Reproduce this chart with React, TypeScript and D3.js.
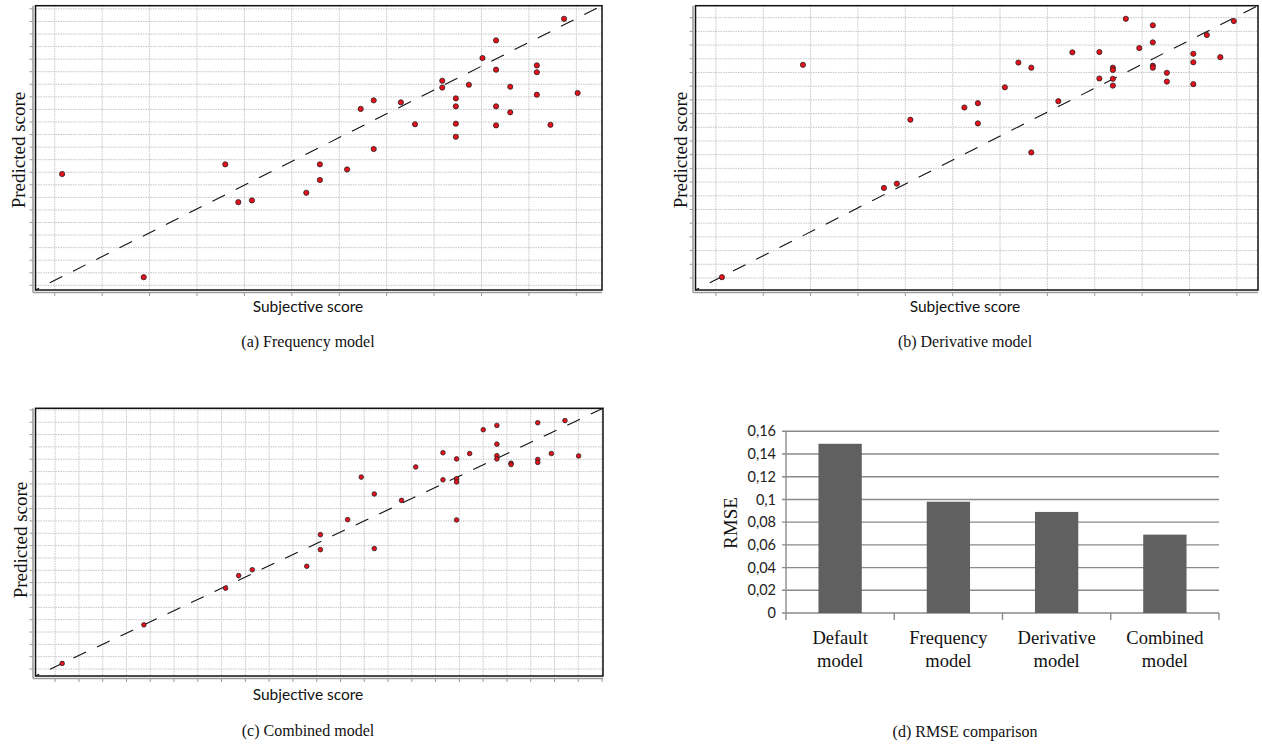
import * as d3 from "d3"
import React from "react"

// subjective score (normalised), shared by the three scatter plots
const subjective = [
  0.047, 0.191, 0.335, 0.358, 0.382, 0.478, 0.502, 0.502, 0.55, 0.574, 0.597, 0.597,
  0.645, 0.67, 0.718, 0.718, 0.742, 0.742, 0.742, 0.742, 0.765, 0.789, 0.813, 0.813,
  0.813, 0.813, 0.838, 0.838, 0.885, 0.885, 0.885, 0.909, 0.933, 0.957,
]

const predFrequency = [
  0.408, 0.045, 0.442, 0.309, 0.315, 0.342, 0.442, 0.387, 0.424, 0.637, 0.667, 0.496,
  0.66, 0.583, 0.736, 0.712, 0.674, 0.646, 0.585, 0.539, 0.722, 0.816, 0.878, 0.775,
  0.646, 0.579, 0.715, 0.625, 0.79, 0.766, 0.687, 0.581, 0.954, 0.693,
]

const predDerivative = [
  0.045, 0.792, 0.359, 0.374, 0.599, 0.642, 0.657, 0.586, 0.713, 0.8, 0.782, 0.484,
  0.664, 0.836, 0.837, 0.744, 0.782, 0.774, 0.743, 0.719, 0.954, 0.851, 0.931, 0.871,
  0.789, 0.782, 0.764, 0.733, 0.831, 0.801, 0.724, 0.897, 0.819, 0.946,
]

const predCombined = [
  0.047, 0.191, 0.328, 0.375, 0.397, 0.41, 0.528, 0.472, 0.584, 0.743, 0.68, 0.476,
  0.656, 0.781, 0.834, 0.733, 0.811, 0.737, 0.725, 0.583, 0.831, 0.92, 0.936, 0.866,
  0.823, 0.811, 0.795, 0.79, 0.946, 0.809, 0.798, 0.831, 0.954, 0.822,
]

const models = ["Default model", "Frequency model", "Derivative model", "Combined model"]
const rmse = [0.149, 0.098, 0.089, 0.069]

const serif = "'Liberation Serif', 'Times New Roman', serif"
const sans = "Lato, 'Liberation Sans', sans-serif"

const Scatter = ({ box, ys, grid, r, xLabel, yLabel, caption }) => {
  const x = d3.scaleLinear().domain([0, 1]).range([box.x0, box.x1])
  const y = d3.scaleLinear().domain([0, 1]).range([box.y1, box.y0])
  const vx = d3.range(grid.vx[0], 1, grid.vx[1])
  const hy = d3.range(grid.hy[0], 1, grid.hy[1])
  const gray = "#9a9a9a"
  return (
    <g>
      {vx.map((v, i) => (
        <line key={"v" + i} x1={x(v)} x2={x(v)} y1={box.y0} y2={box.y1}
          stroke="#c4c4c4" strokeWidth={1} strokeDasharray="1.5 1" />
      ))}
      {hy.map((v, i) => (
        <line key={"h" + i} x1={box.x0} x2={box.x1} y1={y(v)} y2={y(v)}
          stroke="#c4c4c4" strokeWidth={1} strokeDasharray="1.5 1" />
      ))}
      {/* axes outside the frame */}
      <line x1={box.x0 - 2.5} x2={box.x0 - 2.5} y1={box.y0} y2={box.y1 + 2.5} stroke={gray} strokeWidth={1.5} />
      <line x1={box.x0 - 2.5} x2={box.x1} y1={box.y1 + 2.5} y2={box.y1 + 2.5} stroke={gray} strokeWidth={1.5} />
      {vx.map((v, i) => (
        <line key={"tx" + i} x1={x(v)} x2={x(v)} y1={box.y1 + 2.5} y2={box.y1 + 6} stroke={gray} strokeWidth={1} />
      ))}
      {hy.map((v, i) => (
        <line key={"ty" + i} x1={box.x0 - 2.5} x2={box.x0 - 6} y1={y(v)} y2={y(v)} stroke={gray} strokeWidth={1} />
      ))}
      <line x1={x(0)} y1={y(0)} x2={x(1)} y2={y(1)} stroke="#111" strokeWidth={1.1}
        strokeDasharray="14 12" strokeDashoffset={10} />
      {subjective.map((s, i) => (
        <circle key={"p" + i} cx={x(s)} cy={y(ys[i])} r={r} fill="#e8101a" stroke="#222" strokeWidth={0.8} />
      ))}
      <rect x={box.x0} y={box.y0} width={box.x1 - box.x0} height={box.y1 - box.y0}
        fill="none" stroke="#111" strokeWidth={1.5} />
      <text x={xLabel[0]} y={xLabel[1]} textAnchor="middle" fontFamily={sans} fontSize={15.5} fill="#111">
        Subjective score
      </text>
      <text transform={`translate(${yLabel[0]},${yLabel[1]}) rotate(-90)`} dy="0.35em" textAnchor="middle"
        fontFamily={serif} fontSize={19} fill="#111">
        Predicted score
      </text>
      <text x={caption[1]} y={caption[2]} textAnchor="middle" fontFamily={serif} fontSize={16} fill="#111">
        {caption[0]}
      </text>
    </g>
  )
}

const Bars = () => {
  const x0 = 786, x1 = 1219, yTop = 431.3, yBot = 613
  const x = d3.scaleBand().domain(models).range([x0, x1]).paddingInner(0.6).paddingOuter(0.3)
  const y = d3.scaleLinear().domain([0, 0.16]).range([yBot, yTop])
  const ticks = d3.range(0, 9).map((i) => y.ticks(8)[i])
  const fmt = d3.formatLocale({ decimal: ",", thousands: ".", grouping: [3], currency: ["", ""] }).format("~r")
  const step = (x1 - x0) / models.length
  const gridCol = "#8a8a8a"
  return (
    <g>
      {ticks.map((t, i) => (
        <g key={i}>
          <line x1={x0 - 4} x2={x1} y1={y(t)} y2={y(t)} stroke={gridCol} strokeWidth={1.4} />
          <text x={776} y={y(t)} dy="0.35em" textAnchor="end" fontFamily={sans} fontSize={14.5} fill="#222">
            {fmt(t)}
          </text>
        </g>
      ))}
      <line x1={x0} x2={x0} y1={yTop} y2={yBot} stroke={gridCol} strokeWidth={1.4} />
      {models.map((m, i) => (
        <g key={m}>
          <rect x={x(m)} y={y(rmse[i])} width={x.bandwidth()} height={yBot - y(rmse[i])} fill="#606060" />
          <text x={x(m) + x.bandwidth() / 2} y={644} textAnchor="middle" fontFamily={serif} fontSize={18.5} fill="#111">
            {m.split(" ")[0]}
          </text>
          <text x={x(m) + x.bandwidth() / 2} y={667} textAnchor="middle" fontFamily={serif} fontSize={18.5} fill="#111">
            {m.split(" ")[1]}
          </text>
        </g>
      ))}
      {d3.range(0, models.length + 1).map((i) => (
        <line key={"t" + i} x1={x0 + i * step} x2={x0 + i * step} y1={yBot} y2={yBot + 7} stroke={gridCol} strokeWidth={1.4} />
      ))}
      <text transform="translate(730,523) rotate(-90)" dy="0.35em" textAnchor="middle" fontFamily={serif} fontSize={19} fill="#111">
        RMSE
      </text>
      <text x={965} y={737} textAnchor="middle" fontFamily={serif} fontSize={16} fill="#111">
        (d) RMSE comparison
      </text>
    </g>
  )
}

export default function App() {
  return (
    <svg width={1262} height={746} style={{ position: "absolute", left: 0, top: 0, background: "#fff" }}>
      <rect width={1262} height={746} fill="#fff" />
      <Scatter box={{ x0: 35.5, x1: 602, y0: 5.7, y1: 290 }} ys={predFrequency}
        grid={{ vx: [0.034, 0.0837], hy: [0.0164, 0.0442] }} r={2.6}
        xLabel={[308, 312]} yLabel={[18, 150]} caption={["(a) Frequency model", 308, 347]} />
      <Scatter box={{ x0: 695.5, x1: 1258, y0: 5.7, y1: 290 }} ys={predDerivative}
        grid={{ vx: [0.0362, 0.0842], hy: [0.0422, 0.0482] }} r={2.6}
        xLabel={[965, 312]} yLabel={[680, 150]} caption={["(b) Derivative model", 965, 347]} />
      <Scatter box={{ x0: 35.5, x1: 603, y0: 408.3, y1: 676 }} ys={predCombined}
        grid={{ vx: [0.0346, 0.0419], hy: [0.026, 0.0461] }} r={2.3}
        xLabel={[308, 700]} yLabel={[20, 540]} caption={["(c) Combined model", 308, 736]} />
      <Bars />
    </svg>
  )
}
